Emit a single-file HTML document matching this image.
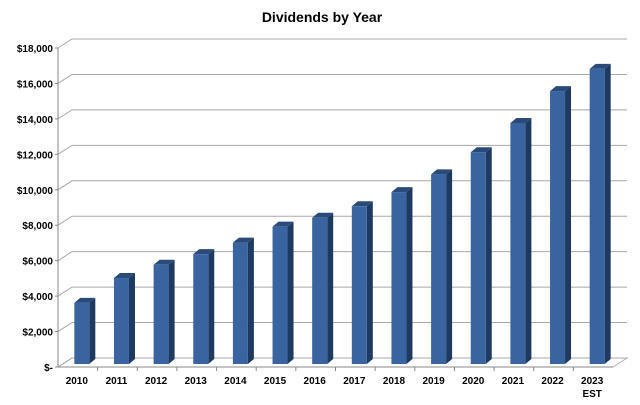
<!DOCTYPE html>
<html><head><meta charset="utf-8"><style>body{margin:0;background:#fff}svg{display:block;font-family:"Liberation Sans",Arial,sans-serif}</style></head>
<body>
<svg id="c" width="640" height="405">
<text x="322" y="22" text-anchor="middle" font-size="14" font-weight="bold" fill="#000">Dividends by Year</text>
<g id="grid"></g><g id="bars"></g><g id="labels"></g>
</svg>
<script>
const categories=["2010","2011","2012","2013","2014","2015","2016","2017","2018","2019","2020","2021","2022","2023"];
const values=[3450,4850,5600,6200,6850,7750,8250,8900,9700,10700,11950,13600,15400,16650];
const yTicks=[0,2000,4000,6000,8000,10000,12000,14000,16000,18000];
const yTickLabels=["$-","$2,000","$4,000","$6,000","$8,000","$10,000","$12,000","$14,000","$16,000","$18,000"];
const NS="http://www.w3.org/2000/svg";
function mk(t,a,p){const e=document.createElementNS(NS,t);for(const k in a)e.setAttribute(k,a[k]);p.appendChild(e);return e;}
const x0=58,x1=613,dx=14,dy=9,front0=367,yMax=18000,h=319;
function yF(v){return front0-v/yMax*h;}
function xC(i){return x0+(i+0.5)*(x1-x0)/categories.length;}
const g=document.getElementById('grid'),b=document.getElementById('bars'),l=document.getElementById('labels');
// floor
const fl=mk('polygon',{points:`${x0},${front0} ${x0+dx},${front0-dy} ${x1+dx},${front0-dy} ${x1},${front0}`,fill:'none',stroke:'#b0b0b0'},g);

yTicks.forEach((v,i)=>{
 const y=yF(v);
 const gl=mk('polyline',{points:`${x0},${y} ${x0+dx},${y-dy} ${x1+dx},${y-dy}`,fill:'none',stroke:'#a8a8a8','stroke-width':1},g);
 
 const t=mk('text',{x:x0-5,y:y+4,'text-anchor':'end','font-size':10,'font-weight':'bold',fill:'#000'},l);
 t.textContent=yTickLabels[i];
 
 mk('line',{x1:x0-3,y1:y,x2:x0,y2:y,stroke:'#888'},g);
});
const ax=mk('line',{x1:x0,y1:yF(yMax),x2:x0,y2:front0,stroke:'#888'},g);

const xa=mk('line',{x1:x0,y1:front0,x2:x1,y2:front0,stroke:'#888'},g);

const bw=15,sd=6,su=5;
categories.forEach((c,i)=>{
 const cx=xC(i)+4, left=cx-bw/2, top=yF(values[i])-3, bot=front0-3;
 const grp=mk('g',{},b);
 
 mk('polygon',{points:`${left+bw},${top} ${left+bw+sd},${top-su} ${left+bw+sd},${bot-su} ${left+bw},${bot}`,fill:'#1f3a60'},grp);
 mk('polygon',{points:`${left},${top} ${left+sd},${top-su} ${left+bw+sd},${top-su} ${left+bw},${top}`,fill:'#2a4b7a'},grp);
 mk('rect',{x:left,y:top,width:bw,height:bot-top,fill:'#3a64a0'},grp);
 const t=mk('text',{x:xC(i)-1,y:front0+17,'text-anchor':'middle','font-size':10,'font-weight':'bold',fill:'#000'},l);
 t.textContent=c;
 
 if(i>0){mk('line',{x1:x0+i*(x1-x0)/categories.length,y1:front0,x2:x0+i*(x1-x0)/categories.length,y2:front0+4,stroke:'#888'},g);}
});
const e=mk('text',{x:xC(13)-1,y:front0+30,'text-anchor':'middle','font-size':10,'font-weight':'bold',fill:'#000'},l);
e.textContent='EST';

</script>
</body></html>
